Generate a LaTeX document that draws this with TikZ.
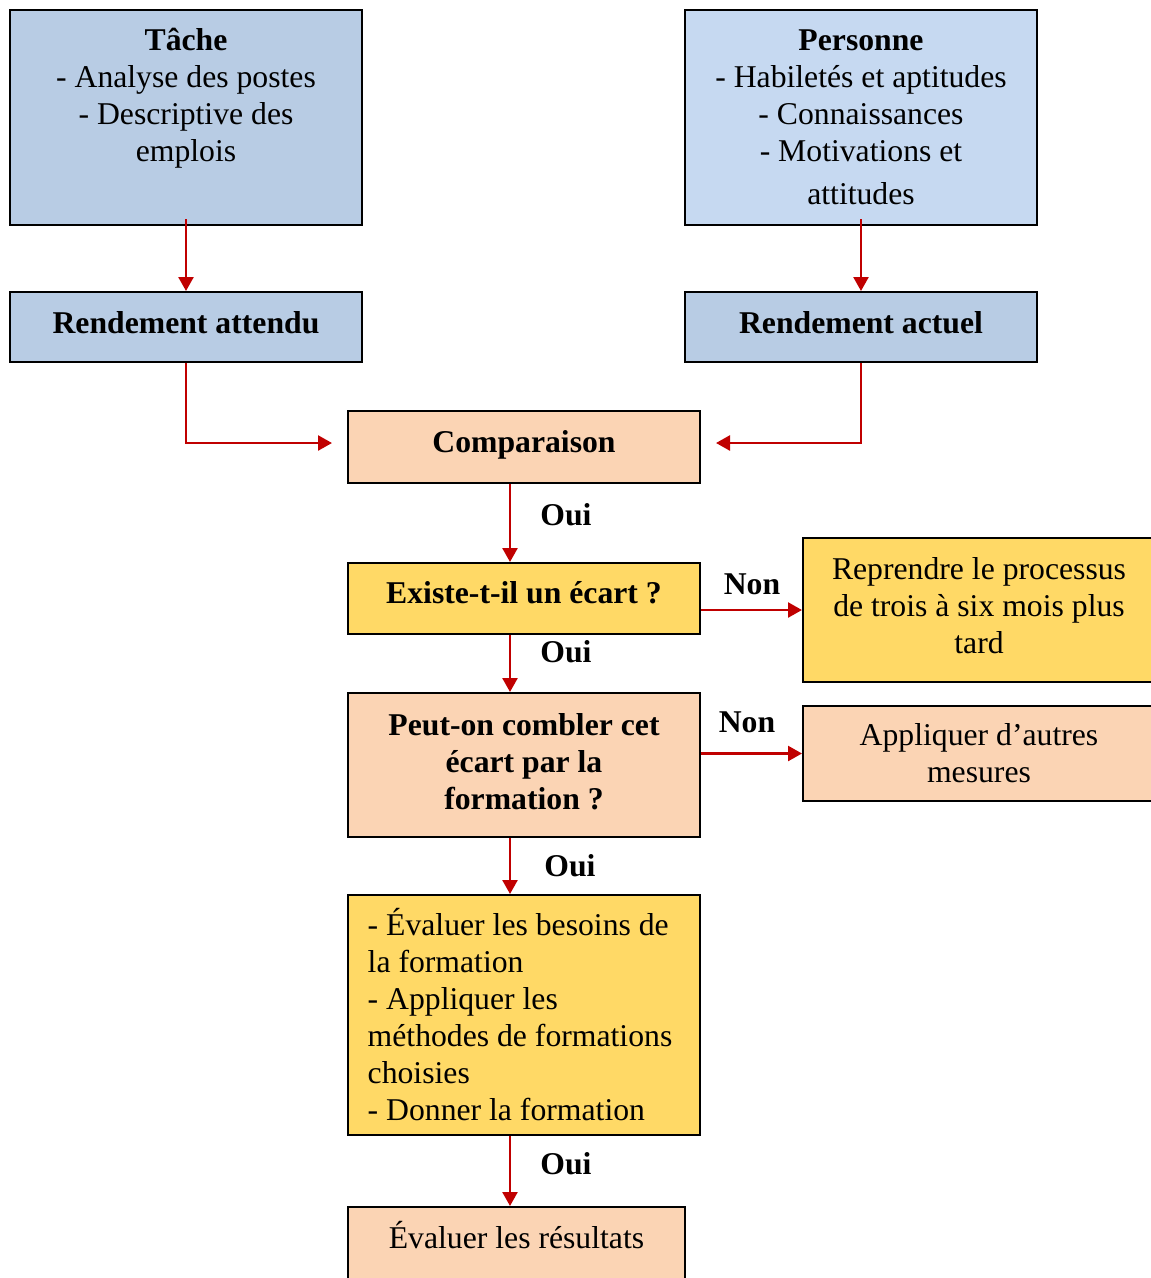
\documentclass[tikz,border=0pt]{standalone}
\usepackage{fontspec}
\setmainfont{Liberation Serif}
\usetikzlibrary{arrows.meta,calc}

\definecolor{steelfill}{HTML}{B8CCE4}
\definecolor{paleblue}{HTML}{C6D9F1}
\definecolor{peach}{HTML}{FBD4B4}
\definecolor{gold}{HTML}{FFD966}
\definecolor{flowred}{HTML}{C00000}

\newcommand\diagfont{\fontsize{31.7pt}{37pt}\selectfont}

\tikzset{
  box/.style={draw=black, line width=2pt, inner sep=0pt, align=center,
              minimum width=352pt, font=\diagfont},
  boldbox/.style={box, font=\diagfont\bfseries},
  boxtext/.style={inner sep=0pt, align=center, font=\diagfont},
  % extra depth on the last line raises the text inside its box
  lift/.style={execute at end node={\rule[-#1]{0pt}{#1}}},
  flow/.style={draw=flowred, line width=2.5pt,
               -{Triangle[length=14pt,width=15pt]}},
  lbl/.style={inner sep=0pt, font=\diagfont\bfseries}
}

\begin{document}
\begin{tikzpicture}[x=1pt,y=-1pt]
\useasboundingbox (0,0) rectangle (1151,1278);
\clip (0,0) rectangle (1151,1278);

% vertical axis of the main chain of arrows
\coordinate (spine) at (510,0);

% top row: sources
\node[box, fill=steelfill, minimum height=215pt] (tache) at (186,117.5) {};
\node[boxtext, anchor=north] (tachetxt) at (186,28)
  {\textbf{Tâche}\\- Analyse des postes\\- Descriptive des\\emplois};

\node[box, fill=paleblue, minimum height=215pt] (personne) at (861,117.5) {};
\node[boxtext, anchor=north] (personnetxt) at (861,30)
  {\textbf{Personne}\\- Habiletés et aptitudes\\- Connaissances\\- Motivations et\\[6pt]attitudes};

% performance boxes
\node[boldbox, lift=10pt, fill=steelfill, minimum height=70pt] (attendu) at (186,327) {Rendement attendu};
\node[boldbox, lift=10pt, fill=steelfill, minimum height=70pt] (actuel) at (861,327) {Rendement actuel};

% decision chain
\node[boldbox, lift=11pt, fill=peach, minimum height=72pt] (comp) at (524,447) {Comparaison};
\node[boldbox, lift=12pt, fill=gold, minimum height=71pt] (existe) at (524,598.5) {Existe-t-il un écart ?};
\node[box, lift=10pt, fill=gold, minimum height=144pt] (reprendre) at (979,610)
  {Reprendre le processus\\de trois à six mois plus\\tard};
\node[boldbox, lift=8pt, fill=peach, minimum height=144pt] (peut) at (524,765)
  {Peut-on combler cet\\écart par la\\formation ?};
\node[box, fill=peach, minimum height=95pt] (appliquer) at (979,753.5)
  {Appliquer d’autres\\mesures};
\node[box, fill=gold, minimum height=240pt, align=left] (besoins) at (524,1015)
  {- Évaluer les besoins de\\la formation\\- Appliquer les\\méthodes de formations\rule{8pt}{0pt}\\choisies\\- Donner la formation};
\node[box, lift=20pt, fill=peach, minimum width=337pt, minimum height=76pt] (resultats) at (516.5,1245)
  {Évaluer les résultats};

% connectors
\draw[flow] ($(tache.south)+(0,-7)$) -- (attendu.north);
\draw[flow] ($(personne.south)+(0,-7)$) -- (actuel.north);
\draw[flow, shorten >=15pt] (attendu.south) |- ([yshift=4pt]comp.west);
\draw[flow, shorten >=15pt] (actuel.south) |- ([yshift=4pt]comp.east);
\draw[flow] (comp.south -| spine) -- (existe.north -| spine);
\draw[flow] (existe.south -| spine) -- (peut.north -| spine);
\draw[flow] (existe.east |- reprendre.west) -- (reprendre.west);
\draw[flow] (peut.east |- appliquer.west) -- (appliquer.west);
\draw[flow] (peut.south -| spine) -- (besoins.north -| spine);
\draw[flow] (besoins.south -| spine) -- (resultats.north -| spine);

% branch labels
\node[lbl] (oui1) at (566,515) {Oui};
\node[lbl] (oui2) at (566,652) {Oui};
\node[lbl] (oui3) at (570,866) {Oui};
\node[lbl] (oui4) at (566,1164) {Oui};
\node[lbl] (non1) at (752,584) {Non};
\node[lbl] (non2) at (747,722) {Non};
\end{tikzpicture}
\end{document}
